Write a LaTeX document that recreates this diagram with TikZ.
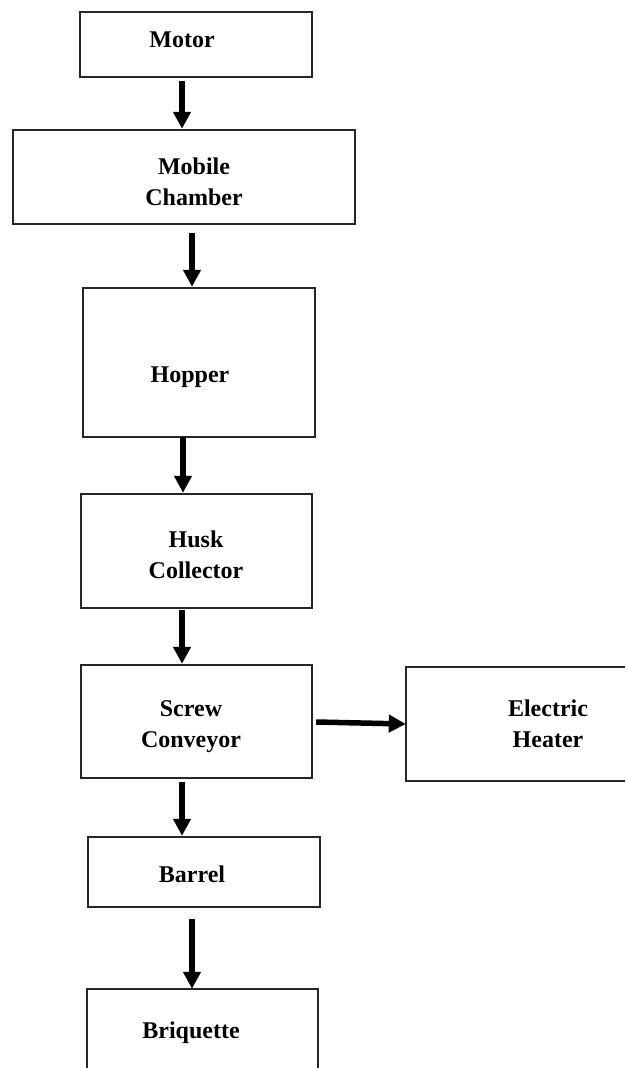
\documentclass[tikz,border=0pt]{standalone}
\usepackage{fontspec}
\setmainfont{Liberation Serif}
\usetikzlibrary{arrows.meta}
\begin{document}
\begin{tikzpicture}[x=1pt,y=-1pt,
  box/.style={draw=black!85, line width=2.4pt, inner sep=0pt},
  openbox/.style={draw=none, inner sep=0pt},
  side/.style={draw=black!85, line width=2.4pt},
  txt/.style={font=\fontsize{24}{30.5}\selectfont\bfseries, align=center, inner sep=0pt, anchor=base},
  arr/.style={line width=5.5pt, -{Triangle[length=17pt,width=17pt]}}]
\useasboundingbox (0,0) rectangle (625,1068);
\fill[white] (0,0) rectangle (625,1068);

% boxes
\node[box, minimum width=232pt, minimum height=65pt]  (motor)  at (196,44.5)  {};
\node[box, minimum width=342pt, minimum height=94pt]  (mob)    at (184,177)   {};
\node[box, minimum width=232pt, minimum height=149pt] (hop)    at (199,362.5) {};
\node[box, minimum width=231pt, minimum height=114pt] (husk)   at (196.5,551) {};
\node[box, minimum width=231pt, minimum height=113pt] (screw)  at (196.5,721.5) {};
\node[openbox, minimum width=219pt, minimum height=114pt] (heater) at (515.5,724) {};
\node[box, minimum width=232pt, minimum height=70pt]  (barrel) at (204,872)   {};
\node[openbox, minimum width=231pt, minimum height=79pt] (briq) at (202.5,1028.5) {};
\draw[side] (heater.north east) -- (heater.north west) -- (heater.south west) -- (heater.south east);
\draw[side] (briq.south west) -- (briq.north west) -- (briq.north east) -- (briq.south east);

% texts (anchor base = baseline of the last line)
\node[txt] (motor-t)  at (182,47)  {Motor};
\node[txt] (mob-t)    at (194,205) {Mobile\\Chamber};
\node[txt] (hop-t)    at (190,382) {Hopper};
\node[txt] (husk-t)   at (196,578) {Husk\\Collector};
\node[txt] (screw-t)  at (191,747) {Screw\\Conveyor};
\node[txt] (heater-t) at (548,747) {Electric\\Heater};
\node[txt] (barrel-t) at (192,882) {Barrel};
\node[txt] (briq-t)   at (191,1038) {Briquette};

% arrows
\draw[arr] ([xshift=-14pt,yshift=-3pt]motor.south) -- ([xshift=-2pt]mob.north);
\draw[arr] ([xshift=8pt,yshift=-8pt]mob.south) -- ([xshift=-7pt]hop.north);
\draw[arr] ([xshift=-16pt,yshift=1pt]hop.south) -- ([xshift=-13.5pt]husk.north);
\draw[arr] ([xshift=-14.5pt,yshift=-1pt]husk.south) -- ([xshift=-14.5pt]screw.north);
\draw[arr] ([xshift=3pt,yshift=-0.5pt]screw.east) -- (heater.west);
\draw[arr] ([xshift=-14.5pt,yshift=-3pt]screw.south) -- ([xshift=-22pt]barrel.north);
\draw[arr] ([xshift=-12pt,yshift=-11pt]barrel.south) -- ([xshift=-10.5pt]briq.north);
\end{tikzpicture}
\end{document}
